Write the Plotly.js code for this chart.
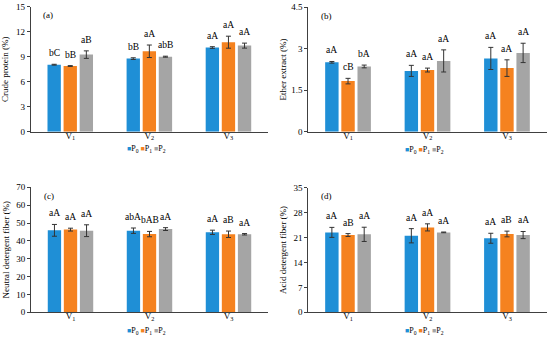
<!DOCTYPE html>
<html>
<head>
<meta charset="utf-8">
<script src="https://cdn.plot.ly/plotly-3.0.1.min.js"></script>
<style>html,body{margin:0;padding:0;background:#fff}#chart{width:550px;height:339px}</style>
</head>
<body>
<div id="chart"></div>
<script>
// ---------- data ----------
const categories = ['V<sub>1</sub>', 'V<sub>2</sub>', 'V<sub>3</sub>'];
const seriesNames = ['P<sub>0</sub>', 'P<sub>1</sub>', 'P<sub>2</sub>'];

// (a) Crude protein (%)
const cpP0 = [8.04, 8.77, 10.10];
const cpP1 = [7.88, 9.65, 10.74];
const cpP2 = [9.25, 9.00, 10.33];
const cpErrP0 = [0.05, 0.10, 0.10];
const cpErrP1 = [0.05, 0.75, 0.72];
const cpErrP2 = [0.45, 0.06, 0.30];
const cpLetP0 = ['bC', 'bB', 'aA'];
const cpLetP1 = ['bB', 'aA', 'aA'];
const cpLetP2 = ['aB', 'abB', 'aA'];

// (b) Ether extract (%)
const eeP0 = [2.51, 2.20, 2.65];
const eeP1 = [1.83, 2.23, 2.30];
const eeP2 = [2.36, 2.56, 2.85];
const eeErrP0 = [0.03, 0.20, 0.40];
const eeErrP1 = [0.10, 0.07, 0.30];
const eeErrP2 = [0.05, 0.40, 0.35];
const eeLetP0 = ['aA', 'aA', 'aA'];
const eeLetP1 = ['cB', 'aA', 'aA'];
const eeLetP2 = ['bA', 'aA', 'aA'];

// (c) Neutral detergent fiber (%)
const ndfP0 = [45.9, 45.7, 44.8];
const ndfP1 = [46.3, 43.8, 43.7];
const ndfP2 = [45.7, 46.6, 43.7];
const ndfErrP0 = [3.3, 1.5, 1.2];
const ndfErrP1 = [0.8, 1.5, 1.8];
const ndfErrP2 = [3.3, 0.8, 0.4];
const ndfLetP0 = ['aA', 'abA', 'aA'];
const ndfLetP1 = ['aA', 'bAB', 'aB'];
const ndfLetP2 = ['aA', 'aA', 'aA'];

// (d) Acid detergent fiber (%)
const adfP0 = [22.45, 21.5, 20.8];
const adfP1 = [21.7, 23.85, 22.0];
const adfP2 = [21.9, 22.45, 21.7];
const adfErrP0 = [1.4, 2.0, 1.4];
const adfErrP1 = [0.4, 1.0, 0.8];
const adfErrP2 = [2.0, 0.1, 1.0];
const adfLetP0 = ['aA', 'aA', 'aA'];
const adfLetP1 = ['aB', 'aA', 'aB'];
const adfLetP2 = ['aA', 'aA', 'aA'];

// ---------- styling / layout ----------
const W = 550, H = 339;
const colors = ['#1f8fd6', '#f5821f', '#a5a5a5'];
const FONT = 'Liberation Serif, Times New Roman, serif';
const BARGAP = 0.39, BARGROUPGAP = 0.17;

const panels = [
  {ax: '', tag: '(a)', title: 'Crude protein (%)', range: [0, 15], dtick: 3,
   xd: [30.7, 268], yd: [6.7, 131.7], legY: 149, standoff: 5,
   vals: [cpP0, cpP1, cpP2], errs: [cpErrP0, cpErrP1, cpErrP2], lets: [cpLetP0, cpLetP1, cpLetP2]},
  {ax: '2', tag: '(b)', title: 'Ether extract (%)', range: [0, 4.5], dtick: 1.5,
   xd: [308.3, 546.7], yd: [7.3, 131.7], legY: 150, standoff: 3,
   vals: [eeP0, eeP1, eeP2], errs: [eeErrP0, eeErrP1, eeErrP2], lets: [eeLetP0, eeLetP1, eeLetP2]},
  {ax: '3', tag: '(c)', title: 'Neutral detergent fiber (%)', range: [0, 70], dtick: 10,
   xd: [31, 268], yd: [187.3, 312.3], legY: 331, standoff: 5,
   vals: [ndfP0, ndfP1, ndfP2], errs: [ndfErrP0, ndfErrP1, ndfErrP2], lets: [ndfLetP0, ndfLetP1, ndfLetP2]},
  {ax: '4', tag: '(d)', title: 'Acid detergent fiber (%)', range: [0, 35], dtick: 7,
   xd: [308.3, 546.7], yd: [187.7, 312.3], legY: 331, standoff: 5,
   vals: [adfP0, adfP1, adfP2], errs: [adfErrP0, adfErrP1, adfErrP2], lets: [adfLetP0, adfLetP1, adfLetP2]}
];

const traces = [];
const annotations = [];
const layout = {
  width: W, height: H,
  margin: {l: 0, r: 0, t: 0, b: 0},
  paper_bgcolor: '#fff', plot_bgcolor: '#fff',
  barmode: 'group', bargap: BARGAP, bargroupgap: BARGROUPGAP,
  showlegend: false,
  font: {family: FONT, size: 9, color: '#000'}
};

panels.forEach(p => {
  const xa = 'x' + p.ax, ya = 'y' + p.ax;
  const xKey = 'xaxis' + p.ax, yKey = 'yaxis' + p.ax;
  layout[xKey] = {
    domain: [p.xd[0] / W, p.xd[1] / W], anchor: ya,
    type: 'category', showline: true, linecolor: '#404040', linewidth: 1,
    ticks: '', showgrid: false, zeroline: false, ticklabelstandoff: -5,
    tickfont: {family: FONT, size: 9, color: '#000'}
  };
  layout[yKey] = {
    domain: [1 - p.yd[1] / H, 1 - p.yd[0] / H], anchor: xa,
    range: p.range, dtick: p.dtick, tick0: 0,
    showline: true, linecolor: '#404040', linewidth: 1,
    ticks: 'outside', ticklen: 3, tickcolor: '#404040',
    showgrid: false, zeroline: false,
    tickfont: {family: FONT, size: 9, color: '#000'},
    title: {text: p.title, font: {family: FONT, size: 9, color: '#000'}, standoff: p.standoff}
  };
  const slot = ((p.xd[1] - p.xd[0]) / categories.length) * (1 - BARGAP) / 3;
  p.vals.forEach((v, j) => {
    traces.push({
      type: 'bar', x: categories, y: v, xaxis: xa, yaxis: ya,
      name: seriesNames[j], marker: {color: colors[j]},
      error_y: {type: 'data', array: p.errs[j], visible: true, color: '#333', thickness: 1, width: 2.5},
      hoverinfo: 'skip'
    });
    categories.forEach((c, i) => {
      annotations.push({
        xref: xa, yref: ya, x: c, y: v[i] + p.errs[j][i],
        xshift: (j - 1) * slot, yshift: 4, yanchor: 'bottom', xanchor: 'center',
        text: p.lets[j][i], showarrow: false,
        font: {family: FONT, size: 9.5, color: '#000'}
      });
    });
  });
  // panel tag
  annotations.push({
    xref: xa + ' domain', yref: ya + ' domain', x: 0.045, y: 0.93,
    xanchor: 'left', yanchor: 'middle', text: p.tag, showarrow: false,
    font: {family: FONT, size: 9, color: '#000'}
  });
  // compact legend
  const legText = seriesNames.map((n, j) =>
    '<span style="color:' + colors[j] + ';font-size:7px">■</span>' + n).join(' ');
  annotations.push({
    xref: 'paper', yref: 'paper',
    x: ((p.xd[0] + p.xd[1]) / 2 - 3) / W, y: 1 - p.legY / H,
    xanchor: 'center', yanchor: 'middle', text: legText, showarrow: false,
    font: {family: FONT, size: 8, color: '#000'}
  });
});
layout.annotations = annotations;

Plotly.newPlot('chart', traces, layout, {staticPlot: true, displayModeBar: false});
</script>
</body>
</html>
